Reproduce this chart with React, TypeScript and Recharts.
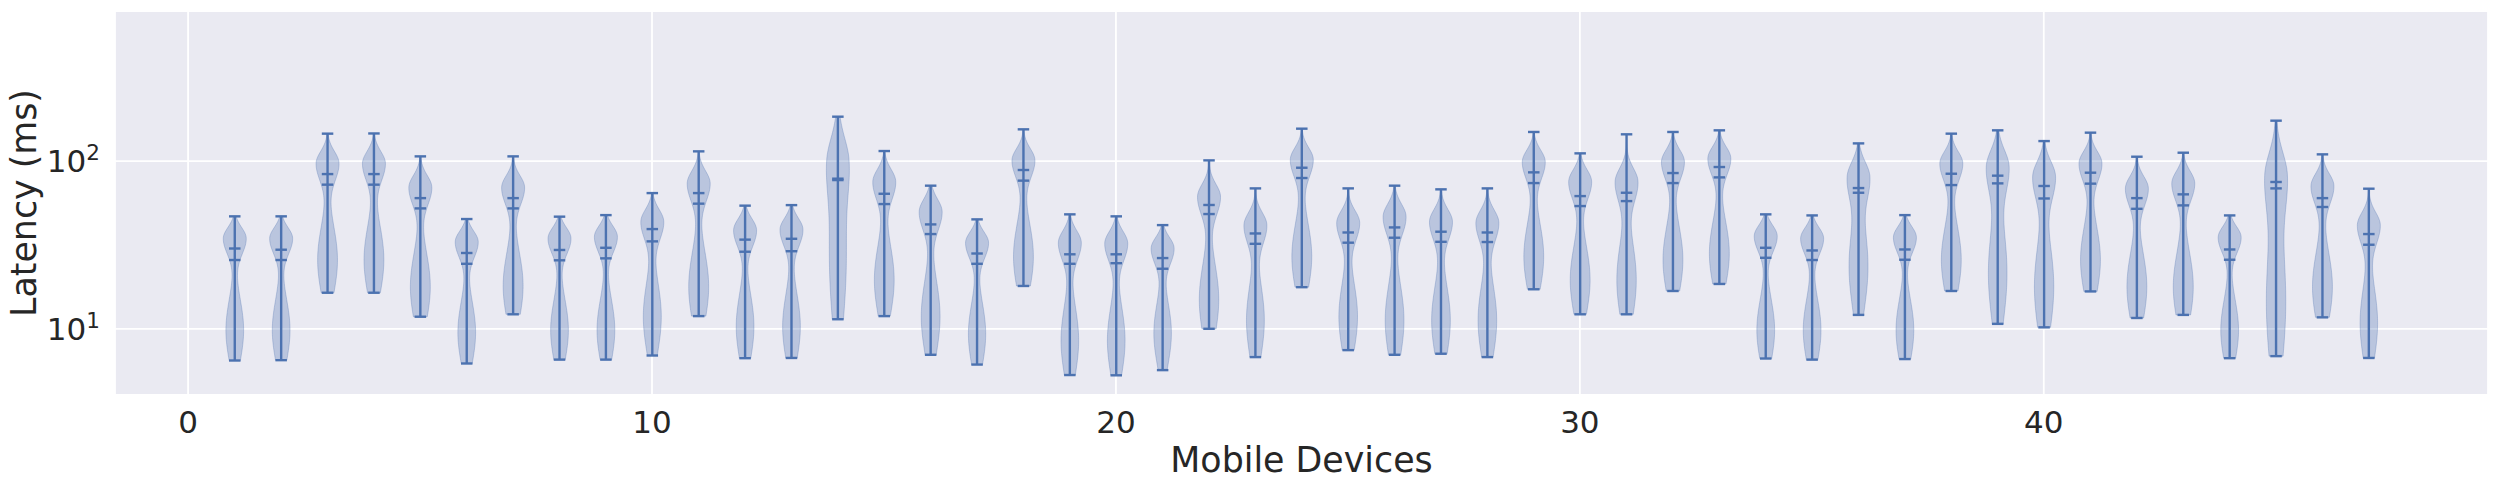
import { ComposedChart, Bar, XAxis, YAxis, CartesianGrid } from "recharts";

// one violin per device, latency in ms
const devices = [
  1, 2, 3, 4, 5, 6, 7, 8, 9, 10, 11, 12, 13, 14, 15, 16, 17, 18, 19, 20, 21, 22, 23, 24,
  25, 26, 27, 28, 29, 30, 31, 32, 33, 34, 35, 36, 37, 38, 39, 40, 41, 42, 43, 44, 45, 46, 47,
];
const maxLatency = [
  46.8, 46.8, 145.6, 146, 106.6, 45.1, 106.6, 46.6, 47.6, 64.4, 114.2, 54.2, 54.6, 183.8, 114.7, 71.3,
  44.9, 154.5, 48.1, 46.8, 41.5, 100.9, 68.7, 155.9, 68.7, 71.3, 67.8, 68.7, 149, 111.1, 144.3, 149,
  152.4, 48.1, 47.4, 127.4, 47.6, 145.6, 152.4, 131.5, 147.6, 106.1, 112.1, 47.4, 174, 109.6, 68.4,
];
const medianLatency = [
  30.1, 29.6, 83.6, 83.6, 60.1, 28.3, 60.1, 29.5, 30.4, 39.3, 64.4, 34.0, 34.4, 78.5, 63.8, 41.9,
  28.1, 88.4, 27.8, 27.8, 26.4, 54.7, 37.0, 91.2, 37.5, 40.2, 37.9, 37.5, 85.6, 61.8, 64.7, 84.8,
  92.1, 30.4, 29.3, 69.0, 29.7, 84.0, 81.8, 71.0, 85.2, 60.1, 63.3, 29.7, 75.0, 60.1, 36.7,
];
const meanLatency = [
  25.7, 25.7, 72.3, 72.3, 52.2, 24.4, 52.2, 25.6, 26.3, 33.2, 55.7, 28.8, 29.0, 77.0, 55.4, 36.7,
  24.4, 76.4, 24.4, 24.6, 22.8, 48.3, 32.1, 79.2, 32.6, 34.9, 33.0, 32.9, 73.9, 53.9, 57.7, 73.9,
  79.9, 26.5, 25.7, 64.7, 25.8, 71.9, 73.6, 59.8, 73.3, 51.9, 54.4, 25.8, 68.7, 53.2, 31.7,
];
const minLatency = [
  6.47, 6.5, 16.4, 16.4, 11.8, 6.21, 12.2, 6.55, 6.55, 6.93, 11.9, 6.68, 6.7, 11.4, 11.9, 7.0,
  6.12, 18.0, 5.3, 5.28, 5.67, 10.0, 6.78, 17.7, 7.46, 7.0, 7.1, 6.78, 17.2, 12.2, 12.2, 16.8,
  18.5, 6.65, 6.55, 12.1, 6.6, 16.8, 10.7, 10.2, 16.7, 11.6, 12.1, 6.68, 6.87, 11.7, 6.7,
];
// densest latency of the upper and lower clusters
const upperMode = [
  34.6, 34.6, 96.9, 96.9, 69.6, 33.0, 69.6, 34.6, 35.4, 43.5, 73.6, 38.7, 39.0, 101, 75.3, 49.8,
  32.6, 101, 32.6, 32.3, 30.2, 61.3, 41.5, 102, 42.9, 46.6, 43.5, 42.9, 99, 75.3, 75.3, 99,
  103.7, 35.7, 34.6, 80.6, 35.1, 96.9, 92.5, 80.6, 96.9, 68.7, 73.6, 35.1, 82.5, 71.0, 41.5,
];
const lowerMode = [
  9.8, 9.8, 25.7, 25.7, 17.8, 9.5, 18.0, 9.8, 9.8, 11.8, 17.8, 10.3, 10.3, 26.0, 19.5, 11.8,
  9.3, 26.9, 8.5, 8.5, 9.4, 14.9, 11.2, 26.9, 11.8, 11.2, 11.2, 11.2, 26.9, 19.5, 19.5, 25.7,
  28.1, 9.8, 9.8, 23.5, 9.8, 25.7, 21.4, 17.8, 25.7, 17.8, 17.8, 9.8, 14.5, 17.8, 10.8,
];
const lowerWeight = [
  0.78, 0.78, 0.88, 0.88, 0.88, 0.78, 0.88, 0.78, 0.78, 0.8, 0.88, 0.78, 0.78, 1.0, 0.88, 0.83,
  0.76, 0.88, 0.78, 0.78, 0.78, 0.86, 0.8, 0.88, 0.83, 0.83, 0.83, 0.83, 0.88, 0.88, 0.88, 0.88,
  0.88, 0.78, 0.78, 0.92, 0.78, 0.88, 0.88, 0.88, 0.88, 0.88, 0.88, 0.78, 1.0, 0.88, 0.78,
];
const spread = [
  1, 1, 1, 1, 1, 1, 1, 1, 1, 1, 1, 1, 1, 1.5, 1, 1,
  1, 1, 1, 1, 1, 1, 1, 1, 1, 1, 1, 1, 1, 1, 1, 1,
  1, 1, 1, 1.15, 1, 1, 1.15, 1.1, 1, 1, 1, 1, 1.3, 1, 1,
];

const xTicks = [0, 10, 20, 30, 40];
const yTicks = [10, 100];

const BLUE = "#4C72B0";
const TEXT = "#262626";
const FONT = "'DejaVu Sans', sans-serif";

const data = devices.map((device, i) => ({
  device,
  range: [minLatency[i], maxLatency[i]],
  median: medianLatency[i],
  mean: meanLatency[i],
  upper: upperMode[i],
  lower: lowerMode[i],
  weight: lowerWeight[i],
  spread: spread[i],
}));

const gauss = (d: number, s: number) => Math.exp(-0.5 * (d / s) * (d / s));

function Violin(props: any) {
  const { x, y, width, height, payload } = props;
  if (!payload || !isFinite(y) || !isFinite(height)) return null;
  const top = Math.min(y, y + height);
  const bottom = Math.max(y, y + height);
  const cx = x + width / 2;
  const half = width / 2;
  const cap = width / 4;
  const [lo, hi] = payload.range;
  const l0 = Math.log10(lo);
  const l1 = Math.log10(hi);
  // log axis: position is linear in log10(value) between the two ends
  const toY = (v: number) => top + ((l1 - Math.log10(v)) / (l1 - l0)) * (bottom - top);
  const tUp = (Math.log10(payload.upper) - l0) / (l1 - l0);
  const tLo = (Math.log10(payload.lower) - l0) / (l1 - l0);
  const k = payload.spread;
  const dens = (t: number) => {
    const d = t - tUp;
    return gauss(d, (d > 0 ? 0.075 : 0.11) * k) + payload.weight * gauss(t - tLo, 0.22 * k);
  };
  const n = 90;
  const ts: number[] = [];
  for (let i = 0; i <= n; i++) ts.push(i / n);
  const ds = ts.map(dens);
  const peak = Math.max(...ds);
  const pts = ts.map((t, i) => ({ py: bottom - t * (bottom - top), w: (ds[i] / peak) * half }));
  const left = pts.map((p) => `${cx - p.w},${p.py}`);
  const right = pts.slice().reverse().map((p) => `${cx + p.w},${p.py}`);
  const body = `M${left.join("L")}L${right.join("L")}Z`;
  const hline = (yy: number, key: string) => (
    <line key={key} x1={cx - cap} x2={cx + cap} y1={yy} y2={yy} stroke={BLUE} strokeWidth={2.4} />
  );
  return (
    <g>
      <path d={body} fill={BLUE} fillOpacity={0.3} stroke={BLUE} strokeOpacity={0.3} strokeWidth={1} />
      <line x1={cx} x2={cx} y1={top} y2={bottom} stroke={BLUE} strokeWidth={2.4} />
      {hline(top, "max")}
      {hline(bottom, "min")}
      {hline(toY(payload.median), "median")}
      {hline(toY(payload.mean), "mean")}
    </g>
  );
}

function YTick(props: any) {
  const { x, y, payload } = props;
  const exp = Math.round(Math.log10(payload.value));
  return (
    <text x={x} y={y + 11} textAnchor="end" fill={TEXT} fontFamily={FONT} fontSize={31}>
      10
      <tspan fontSize={21.5} dy={-12}>
        {exp}
      </tspan>
    </text>
  );
}

function XTick(props: any) {
  const { x, y, payload } = props;
  return (
    <text x={x} y={y + 38.3} textAnchor="middle" fill={TEXT} fontFamily={FONT} fontSize={31}>
      {payload.value}
    </text>
  );
}

export default function App() {
  return (
    <div style={{ position: "absolute", left: 0, top: 0, width: 2500, height: 489, background: "#fff" }}>
      <ComposedChart
        width={2500}
        height={489}
        data={data}
        margin={{ top: 11, right: 12, bottom: 0, left: 0 }}
      >
        <CartesianGrid fill="#EAEAF2" stroke="#ffffff" strokeWidth={1.8} />
        <XAxis
          dataKey="device"
          type="number"
          domain={[-1.575, 49.575]}
          ticks={xTicks}
          allowDataOverflow
          height={94}
          axisLine={false}
          tickLine={false}
          tickSize={0}
          tickMargin={0}
          tick={XTick}
          label={(p: any) => {
            const vb = p.viewBox;
            return (
              <text
                x={vb.x + vb.width / 2}
                y={vb.y + 76.7}
                textAnchor="middle"
                fill={TEXT}
                fontFamily={FONT}
                fontSize={34.8}
              >
                Mobile Devices
              </text>
            );
          }}
        />
        <YAxis
          type="number"
          scale="log"
          domain={[4.03, 784]}
          ticks={yTicks}
          allowDataOverflow
          width={115}
          axisLine={false}
          tickLine={false}
          tickSize={0}
          tickMargin={15}
          tick={YTick}
          label={(p: any) => {
            const vb = p.viewBox;
            const cx = vb.x + 36;
            const cy = vb.y + vb.height / 2;
            return (
              <text
                x={cx}
                y={cy}
                transform={`rotate(-90, ${cx}, ${cy})`}
                textAnchor="middle"
                fill={TEXT}
                fontFamily={FONT}
                fontSize={34.8}
              >
                Latency (ms)
              </text>
            );
          }}
        />
        <Bar dataKey="range" barSize={23} isAnimationActive={false} shape={Violin} />
      </ComposedChart>
    </div>
  );
}
